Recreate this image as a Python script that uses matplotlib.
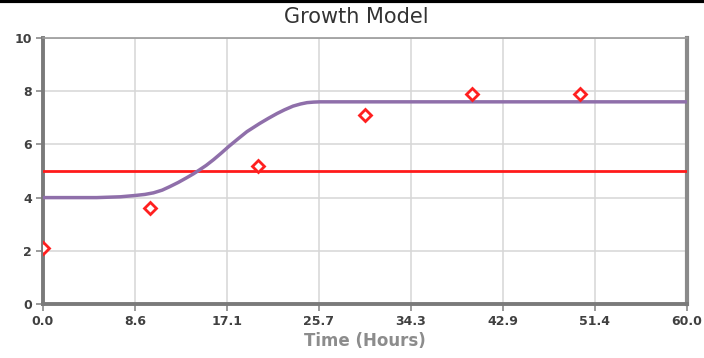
import matplotlib
matplotlib.use("Agg")
import matplotlib.pyplot as plt
from matplotlib.lines import Line2D

# Observed measurements
obs_time = [0.0, 10.0, 20.0, 30.0, 40.0, 50.0]
obs_value = [2.1, 3.6, 5.2, 7.1, 7.9, 7.9]

# Fitted growth curve
model_time = [0.0, 5.0, 7.2, 8.6, 9.5, 10.3, 11.1, 11.8, 12.6, 13.4, 14.0,
              14.5, 15.2, 15.9, 16.6, 17.3, 18.2, 19.0, 20.2, 21.0, 21.8,
              22.5, 23.3, 24.0, 24.6, 25.2, 25.8, 30.0, 60.0]
model_value = [4.0, 4.0, 4.03, 4.08, 4.12, 4.18, 4.28, 4.41, 4.57, 4.75, 4.89,
               5.02, 5.21, 5.43, 5.67, 5.92, 6.22, 6.48, 6.79, 6.98, 7.16,
               7.3, 7.44, 7.52, 7.57, 7.59, 7.6, 7.6, 7.6]

threshold = 5.0

x_ticks = [0.0, 8.6, 17.1, 25.7, 34.3, 42.9, 51.4, 60.0]
y_ticks = [0, 2, 4, 6, 8, 10]

fig = plt.figure(figsize=(7.04, 3.58), dpi=100)
ax = fig.add_axes([43 / 704, 54 / 358, 644 / 704, 266 / 358])

ax.set_xlim(0, 60)
ax.set_ylim(0, 10)

ax.set_xticks([60 * i / 7 for i in range(8)])
ax.set_xticklabels([f"{v:.1f}" for v in x_ticks])
ax.set_yticks(y_ticks)
ax.grid(True, color="#d6d6d6", linewidth=1.1)
ax.set_axisbelow(True)

ax.axhline(threshold, color="#ff1a1a", linewidth=2, zorder=3)
ax.plot(model_time, model_value, color="#8f6faa", linewidth=2.5, zorder=4,
        solid_capstyle="round", solid_joinstyle="round")
ax.plot(obs_time, obs_value, linestyle="none", marker="D", markersize=6.5,
        markerfacecolor="white", markeredgecolor="#ff2020", markeredgewidth=2,
        zorder=5)

for side in ("left", "bottom"):
    ax.spines[side].set_color("#7a7a7a")
    ax.spines[side].set_linewidth(2.8)
ax.spines["top"].set_color("#9a9a9a")
ax.spines["top"].set_linewidth(1.2)
ax.spines["right"].set_color("#8a8a8a")
ax.spines["right"].set_linewidth(3)

ax.tick_params(axis="both", direction="out", length=5, width=1.2,
               color="#8a8a8a", labelsize=9, labelcolor="#404040", pad=3)
for lbl in ax.get_xticklabels() + ax.get_yticklabels():
    lbl.set_fontweight("bold")

ax.set_xlabel("Time (Hours)", fontsize=12, fontweight="bold",
              color="#8c8c8c", labelpad=3)
fig.text(356 / 704, 1 - 17 / 358, "Growth Model", fontsize=15,
         color="#333333", ha="center", va="center")

# top border rule
fig.add_artist(Line2D([0, 1], [0.996, 0.996], transform=fig.transFigure,
                      color="black", linewidth=3))

fig.savefig("out.png", dpi=100)
